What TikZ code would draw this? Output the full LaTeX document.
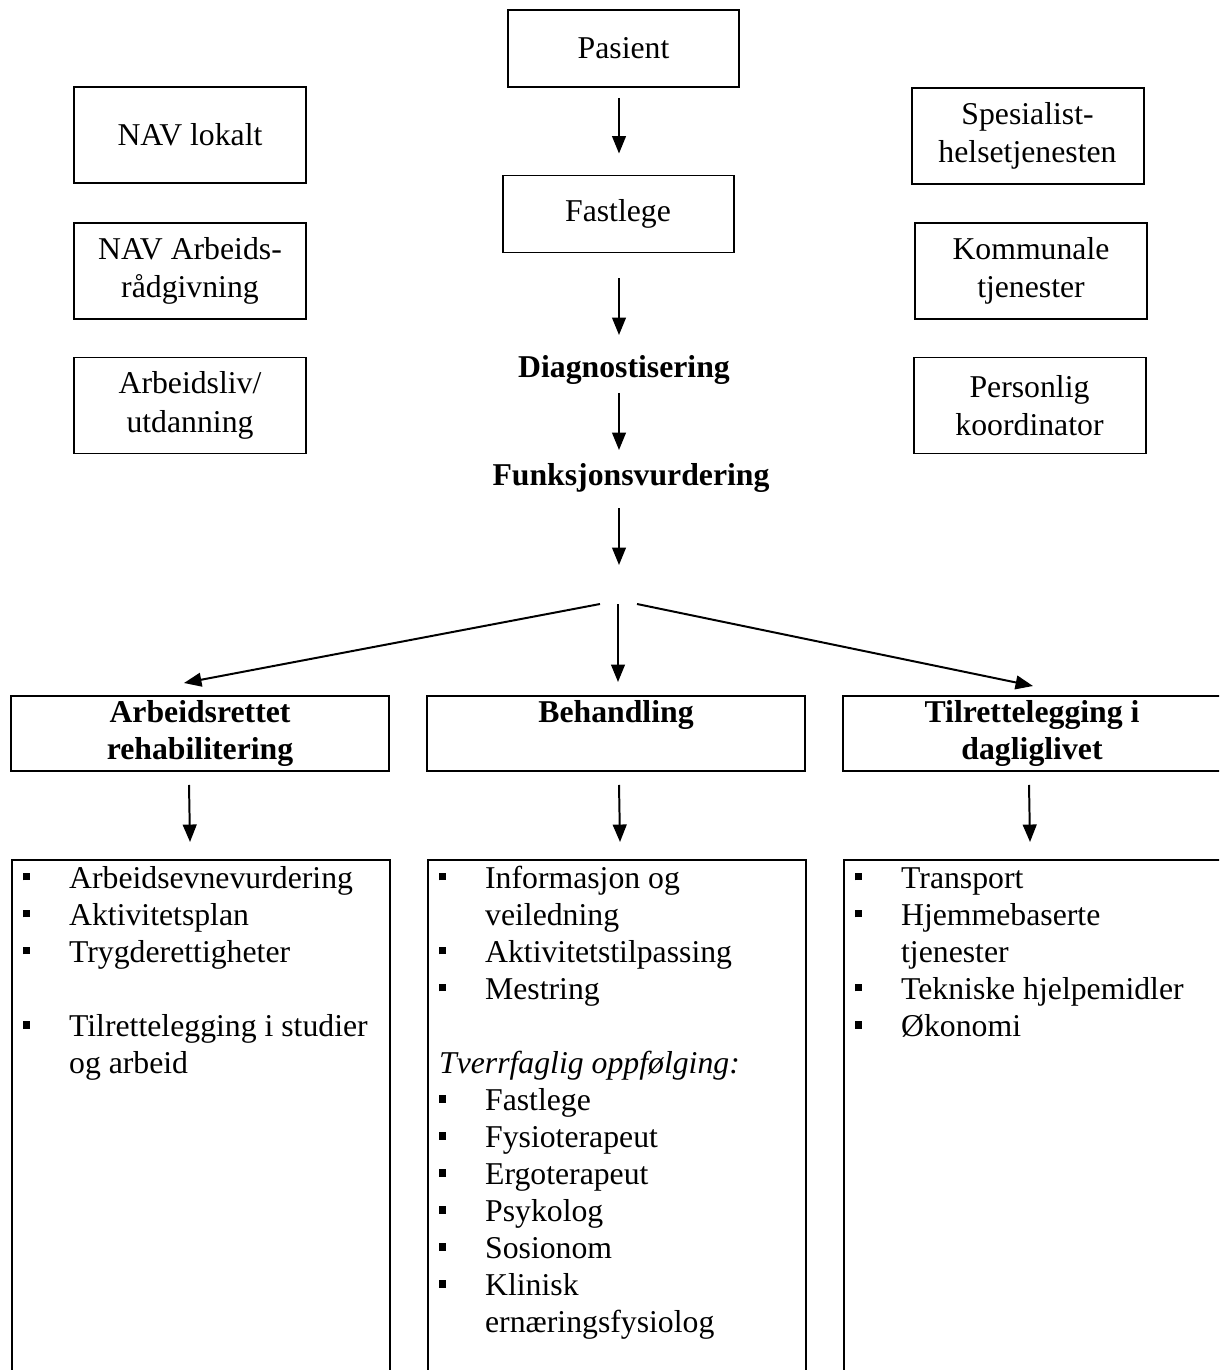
\documentclass[tikz,border=0pt]{standalone}
\usepackage{fontspec}
\setmainfont{Liberation Serif}
\usepackage{tikz}
\usetikzlibrary{positioning, calc, arrows.meta}

% one unit = one pixel of the page
\newcommand{\pu}{0.378pt}
\newcommand{\sqbul}{\raisebox{2.9pt}{\rule{2.6pt}{2.8pt}}}
\newcommand{\sqitem}[1]{\par\noindent\hangindent=17.4pt\hangafter=1\makebox[17.4pt][l]{\sqbul}\strut#1\strut\par}
\newcommand{\blankline}{\par\noindent\strut\par}

\begin{document}
\begin{tikzpicture}[x=0.378pt, y=-0.378pt, >={Triangle[length=6.6pt,width=5.2pt]},
    every node/.style={font=\fontsize{12}{14}\selectfont},
    flowbox/.style={draw, line width=0.75pt, minimum width=231*\pu, minimum height=77*\pu, align=center},
    sidebox/.style={draw, line width=0.75pt, minimum width=232*\pu, minimum height=96*\pu, align=center,
        font=\fontsize{12}{14.6}\selectfont},
    steplabel/.style={font=\fontsize{12}{14}\selectfont\bfseries, inner sep=0pt, anchor=base},
    headbox/.style={draw, line width=0.75pt, anchor=north, minimum width=378*\pu, minimum height=75*\pu,
        align=center, inner sep=0pt, font=\fontsize{12}{14}\selectfont\bfseries},
    listbox/.style={draw, line width=0.75pt, anchor=north west, inner xsep=4.2pt, inner ysep=0.8pt},
    link/.style={->, line width=0.75pt}]
    \useasboundingbox (0,0) rectangle (1219,1370);
    \clip (0,0) rectangle (1219,1370);

    % Main chain
    \node[flowbox] (pasient) at (623.5,48.5) {Pasient};
    \node[flowbox] (fastlege) at (618,214) {Fastlege};
    \node[steplabel] (diag) at (624,377) {Diagnostisering};
    \node[steplabel] (funk) at (631,485) {Funksjonsvurdering};
    \coordinate (gap) at (619,565);

    % Side actors
    \node[sidebox] (navlok) at (190,135) {NAV lokalt};
    \node[sidebox] (navarb) at (190,271) {NAV Arbeids-\\rådgivning};
    \node[sidebox] (arbliv) at (190,405.5) {Arbeidsliv/\\utdanning};
    \node[sidebox] (spes) at (1027.5,136) {Spesialist-\\helsetjenesten};
    \node[sidebox] (komm) at (1031,271) {Kommunale\\tjenester};
    \node[sidebox] (koord) at (1029.5,405.5) {Personlig\\koordinator};

    % Three branches
    \coordinate (splitL) at (600,604);
    \coordinate (splitC) at (618,604);
    \coordinate (splitR) at (637,604);
    \node[headbox] (arthead) at (200,695) {Arbeidsrettet\\rehabilitering};
    \node[headbox, text height=9.8pt, text depth=18.2pt] (behhead) at (616,695) {Behandling};
    \node[headbox] (tilhead) at (1032,695) {Tilrettelegging i\\dagliglivet};

    % Contents of each branch
    \node[listbox] (artlist) at (11,859) {\parbox[t][200pt][t]{134.5pt}{\raggedright
        \sqitem{Arbeidsevnevurdering}
        \sqitem{Aktivitetsplan}
        \sqitem{Trygderettigheter}
        \blankline
        \sqitem{Tilrettelegging i studier\newline og arbeid}}};
    \node[listbox] (behlist) at (427,859) {\parbox[t][200pt][t]{134.5pt}{\raggedright
        \sqitem{Informasjon og\newline veiledning}
        \sqitem{Aktivitetstilpassing}
        \sqitem{Mestring}
        \blankline
        \noindent\strut\textit{Tverrfaglig oppfølging:}\par
        \sqitem{Fastlege}
        \sqitem{Fysioterapeut}
        \sqitem{Ergoterapeut}
        \sqitem{Psykolog}
        \sqitem{Sosionom}
        \sqitem{Klinisk\newline ernæringsfysiolog}}};
    \node[listbox] (tillist) at (843,859) {\parbox[t][200pt][t]{134.5pt}{\raggedright
        \sqitem{Transport}
        \sqitem{Hjemmebaserte\newline tjenester}
        \sqitem{Tekniske hjelpemidler}
        \sqitem{Økonomi}}};

    % Arrows
    \draw[link] ($(pasient.south)+(-4.5,10)$) -- ($(fastlege.north)+(1,-21)$);
    \draw[link] ($(fastlege.south)+(1,25)$) -- ($(diag.base)+(-5,-42)$);
    \draw[link] ($(diag.base)+(-5,16)$) -- ($(funk.base)+(-12,-35)$);
    \draw[link] ($(funk.base)+(-12,23)$) -- (gap);
    \draw[link] (splitL) -- ($(arthead.north)+(-16,-12)$);
    \draw[link] (splitC) -- ($(behhead.north)+(2,-13)$);
    \draw[link] (splitR) -- ($(tilhead.north)+(1,-9)$);
    \draw[link] ($(arthead.south)+(-11,13)$) -- ($(artlist.north)+(-11,-17)$);
    \draw[link] ($(behhead.south)+(3,13)$) -- ($(behlist.north)+(3,-17)$);
    \draw[link] ($(tilhead.south)+(-3,13)$) -- ($(tillist.north)+(-3,-17)$);
\end{tikzpicture}
\end{document}
